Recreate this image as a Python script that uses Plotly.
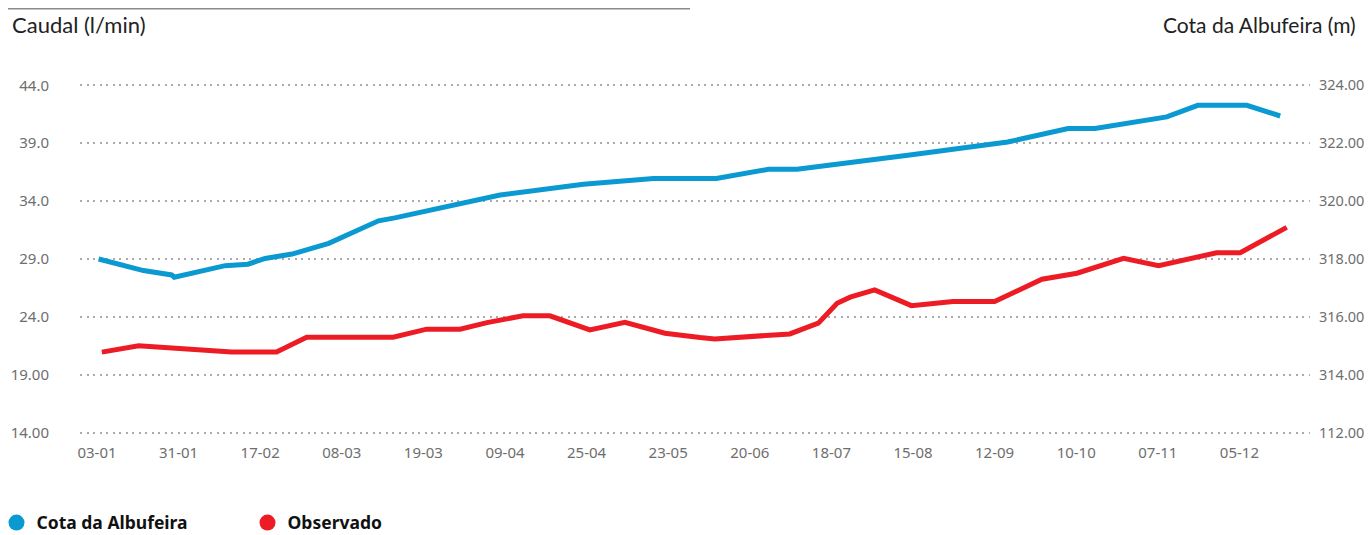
import plotly.graph_objects as go

# x positions are expressed in "tick-label units" (0 = 03-01, 1 = 31-01, ...)
tick_labels = ["03-01", "31-01", "17-02", "08-03", "19-03", "09-04", "25-04", "23-05",
               "20-06", "18-07", "15-08", "12-09", "10-10", "07-11", "05-12"]

cota_x = [0.02, 0.57, 0.915, 0.947, 1.57, 1.85, 2.06, 2.39, 2.84, 3.45, 3.65, 4.94, 5.96,
          6.82, 7.39, 7.59, 8.23, 8.58, 9.96, 10.54, 11.07, 11.16, 11.90, 12.23, 13.11,
          13.49, 14.09, 14.50]
cota_y = [318.00, 317.60, 317.45, 317.37, 317.77, 317.82, 318.02, 318.17, 318.54, 319.32,
          319.42, 320.21, 320.58, 320.78, 320.78, 320.78, 321.10, 321.10, 321.59, 321.79,
          321.99, 322.04, 322.51, 322.51, 322.91, 323.31, 323.31, 322.94]

obs_x = [0.06, 0.51, 1.65, 2.20, 2.57, 3.63, 4.04, 4.45, 4.78, 5.22, 5.55, 6.04, 6.47,
         6.96, 7.39, 7.57, 8.49, 8.84, 9.07, 9.23, 9.53, 9.98, 10.49, 11.00, 11.58, 12.01,
         12.58, 13.01, 13.72, 14.01, 14.58]
obs_y = [20.96, 21.50, 20.96, 20.96, 22.25, 22.25, 22.94, 22.94, 23.51, 24.09, 24.09,
         22.88, 23.54, 22.59, 22.22, 22.10, 22.53, 23.46, 25.18, 25.70, 26.33, 24.97,
         25.32, 25.32, 27.25, 27.77, 29.06, 28.42, 29.54, 29.54, 31.73]

left_ticks = [14, 19, 24, 29, 34, 39, 44]
left_text = ["14.00", "19.00", "24.0", "29.0", "34.0", "39.0", "44.0"]
right_ticks = [312, 314, 316, 318, 320, 322, 324]
right_text = ["112.00", "314.00", "316.00", "318.00", "320.00", "322.00", "324.00"]

BLUE = "#0A99D1"
RED = "#ED1C24"
TICK_FONT = dict(family="Noto Sans", size=15, color="#6e6e6e")

fig = go.Figure()
fig.add_trace(go.Scatter(x=cota_x, y=cota_y, yaxis="y2", mode="lines",
                         line=dict(color=BLUE, width=5), showlegend=False,
                         name="Cota da Albufeira"))
fig.add_trace(go.Scatter(x=obs_x, y=obs_y, mode="lines",
                         line=dict(color=RED, width=5), showlegend=False,
                         name="Observado"))
# legend entries (circles)
fig.add_trace(go.Scatter(x=[None], y=[None], mode="markers", name="Cota da Albufeira",
                         marker=dict(color=BLUE, size=16, symbol="circle")))
fig.add_trace(go.Scatter(x=[None], y=[None], mode="markers", name="Observado",
                         marker=dict(color=RED, size=16, symbol="circle")))

W, H = 1364, 527
L, R, T, B = 72, 62, 75, 100
pw = W - L - R
ph = H - T - B

def px_x(px):
    return (px - L) / pw

def px_y(py):
    return (H - B - py) / ph

fig.update_layout(
    width=W, height=H,
    margin=dict(l=L, r=R, t=T, b=B, pad=0, autoexpand=False),
    plot_bgcolor="white", paper_bgcolor="white",
    xaxis=dict(range=[-0.208, 14.865], tickmode="array",
               tickvals=list(range(len(tick_labels))), ticktext=tick_labels,
               showgrid=False, zeroline=False, showline=False, ticks="",
               automargin=False, tickfont=TICK_FONT, ticklabelstandoff=7),
    yaxis=dict(range=[13.8, 44.2], tickmode="array", tickvals=left_ticks, ticktext=left_text,
               showgrid=True, gridcolor="#ababab", gridwidth=2, griddash="2px,4.5px",
               zeroline=False, showline=False, ticks="", automargin=False,
               tickfont=TICK_FONT, ticklabelstandoff=30),
    yaxis2=dict(range=[311.92, 324.08], overlaying="y", side="right", tickmode="array",
                tickvals=right_ticks, ticktext=right_text, showgrid=False,
                zeroline=False, showline=False, ticks="", automargin=False,
                tickfont=dict(family="Noto Sans", size=14.5, color="#6e6e6e"),
                ticklabelstandoff=8),
    legend=dict(orientation="h", xref="paper", yref="paper",
                x=px_x(-11.5), y=px_y(514.7), xanchor="left", yanchor="middle",
                font=dict(family="Noto Sans", size=17.5, color="#111", weight="bold"),
                entrywidth=206, entrywidthmode="pixels",
                bgcolor="rgba(0,0,0,0)", borderwidth=0),
    showlegend=True,
)

fig.add_annotation(text="Caudal (l/min)", xref="paper", yref="paper",
                   x=px_x(2), y=px_y(17), xanchor="left", yanchor="middle",
                   showarrow=False, font=dict(family="Lato", size=22, color="#222"))
fig.add_annotation(text="Cota da Albufeira (m)", xref="paper", yref="paper",
                   x=px_x(1350), y=px_y(17), xanchor="right", yanchor="middle",
                   showarrow=False, font=dict(family="Lato", size=21, color="#222"))
fig.add_shape(type="line", xref="paper", yref="paper",
              x0=px_x(0), x1=px_x(682), y0=px_y(0.8), y1=px_y(0.8),
              line=dict(color="#8a8a8a", width=1.5))

fig.write_html("out.html")
